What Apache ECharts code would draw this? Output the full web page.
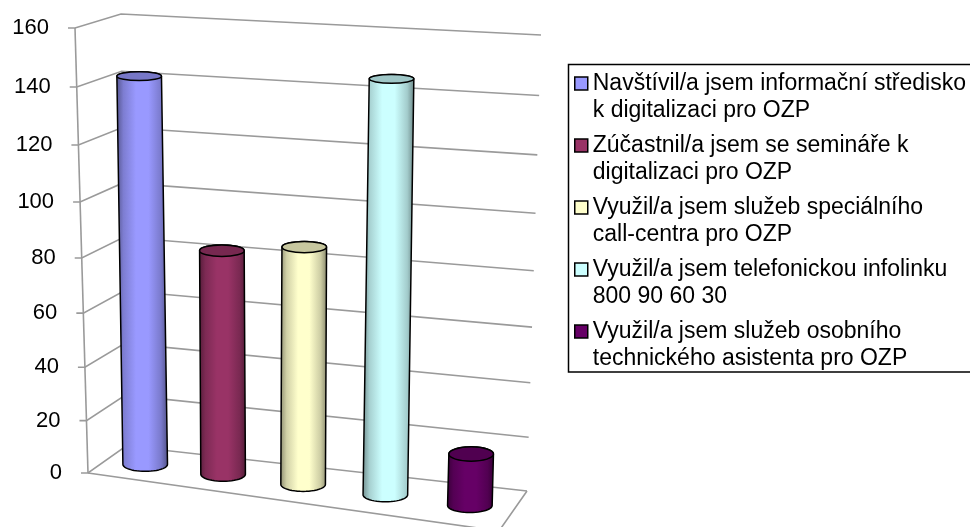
<!DOCTYPE html>
<html><head><meta charset="utf-8">
<style>html,body{margin:0;padding:0;background:#fff}#c{width:970px;height:527px}</style>
<script src="https://cdn.jsdelivr.net/npm/echarts@6/dist/echarts.min.js"></script>
</head><body><div id="c"></div>
<script>
const categories = [
  "Navštívil/a jsem informační středisko\nk digitalizaci pro OZP",
  "Zúčastnil/a jsem se semináře k\ndigitalizaci pro OZP",
  "Využil/a jsem služeb speciálního\ncall-centra pro OZP",
  "Využil/a jsem telefonickou infolinku\n800 90 60 30",
  "Využil/a jsem služeb osobního\ntechnického asistenta pro OZP"
];
const values = [142, 83, 87, 147, 19];
const colors = ["#9999FF", "#993366", "#FFFFCC", "#CCFFFF", "#660066"];
const yTicks = [0, 20, 40, 60, 80, 100, 120, 140, 160];

// Corners of the drawn 3D box: [front, back] per (u, height)
const box = {
  lb: [[88, 473], [126, 446]], lt: [[75, 28], [121, 14]],
  rb: [[499, 531], [527, 491]], rt: [[513, 61], [541, 35]]
};
const G = {left: 100, top: 100, width: 500, height: 300};
const lerp = (a, b, t) => a + (b - a) * t;
const warp = v => v / (v + (1 - v) * 1.07);
function project(u, v, d) {
  const f = warp(v), w = warp(u);
  const corner = i => {
    const bottom = lerp(lerp(box.lb[0][i], box.lb[1][i], d), lerp(box.rb[0][i], box.rb[1][i], d), w);
    const top = lerp(lerp(box.lt[0][i], box.lt[1][i], d), lerp(box.rt[0][i], box.rt[1][i], d), w);
    return lerp(bottom, top, f);
  };
  return [corner(0), corner(1)];
}
const toUV = (api, cat, val) => {
  const p = api.coord([cat, val]);
  return [(p[0] - G.left) / G.width, (G.top + G.height - p[1]) / G.height];
};
function shade(hex, k) {
  const n = parseInt(hex.slice(1), 16);
  const c = s => Math.round(((n >> s) & 255) * k);
  return `rgb(${c(16)},${c(8)},${c(0)})`;
}
const GRID = "#9a9a9a";
function line(points, color, w) {
  return {type: "polyline", shape: {points}, style: {fill: "none", stroke: color, lineWidth: w}};
}
function renderFrame(params, api) {
  const t = api.value(1);
  const v = toUV(api, 0, t)[1];
  const f = project(0, v, 0), b = project(0, v, 1), r = project(1, v, 1);
  const ch = [
    line([[f[0] - 7, f[1]], f, b, r], GRID, 1.6),
    {type: "text", style: {x: f[0] - 26, y: f[1], text: String(t), align: "right", verticalAlign: "middle",
      fontFamily: "Liberation Sans", fontSize: 22, fill: "#000"}}
  ];
  if (params.dataIndex === 0) {
    const fr = project(1, 0, 0);
    ch.push(line([project(0, 0, 0), project(0, 1, 0)], GRID, 1.6));
    ch.push(line([r, fr, f], GRID, 1.6));
  }
  return {type: "group", children: ch};
}
function arc(cx, cy, rx, ry, from, to) {
  const pts = [];
  for (let k = 0; k <= 24; k++) {
    const a = lerp(from, to, k / 24);
    pts.push([cx + rx * Math.cos(a), cy + ry * Math.sin(a)]);
  }
  return pts;
}
function renderCylinder(params, api) {
  const cat = api.value(0), val = api.value(1), color = colors[cat];
  const [u, v] = toUV(api, cat, val);
  const base = project(u, 0, 0.5), top = project(u, v, 0.5);
  const rx = 22.3, ryT = 7.6 - 3.6 * v, ryB = 7;
  const points = arc(base[0], base[1], rx, ryB, Math.PI, 0)
    .concat(arc(top[0], top[1], rx, ryT, 0, -Math.PI));
  return {type: "group", children: [
    {type: "polygon", shape: {points},
      style: {stroke: "#000", lineWidth: 1.5, lineJoin: "round",
        fill: {type: "linear", x: 0, y: 0, x2: 1, y2: 0, colorStops: [
          {offset: 0, color: shade(color, 0.55)}, {offset: 0.14, color: shade(color, 0.82)},
          {offset: 0.38, color: color}, {offset: 0.62, color: color},
          {offset: 0.86, color: shade(color, 0.8)}, {offset: 1, color: shade(color, 0.52)}]}}},
    {type: "ellipse", shape: {cx: top[0], cy: top[1], rx, ry: ryT},
      style: {fill: shade(color, 0.78), stroke: "#000", lineWidth: 1.5}}
  ]};
}
const chart = echarts.init(document.getElementById("c"), null, {renderer: "canvas"});
chart.setOption({
  animation: false,
  backgroundColor: "#fff",
  grid: G,
  xAxis: {type: "category", data: categories, show: false},
  yAxis: {type: "value", min: 0, max: 160, interval: 20, show: false},
  graphic: [{type: "rect", z: 0, shape: {x: 568.5, y: 64.5, width: 410, height: 307.5},
    style: {fill: "#fff", stroke: "#000", lineWidth: 1.5}}],
  legend: {
    data: categories, left: 574, top: 43, orient: "vertical", align: "left",
    padding: 0, itemGap: -19, itemWidth: 13, itemHeight: 13, icon: "rect",
    formatter: n => " \n" + n,
    textStyle: {fontFamily: "Liberation Sans", fontSize: 23, lineHeight: 27, color: "#000"},
    itemStyle: {borderColor: "#000", borderWidth: 1.5},
    selectedMode: false
  },
  series: [
    {type: "custom", name: "frame", renderItem: renderFrame, data: yTicks.map(t => [0, t]), silent: true, z: 1},
    ...categories.map((name, i) => ({
      type: "custom", name, renderItem: renderCylinder, data: [[i, values[i]]],
      itemStyle: {color: colors[i]}, z: 2 + i, clip: false
    }))
  ]
});
</script></body></html>
